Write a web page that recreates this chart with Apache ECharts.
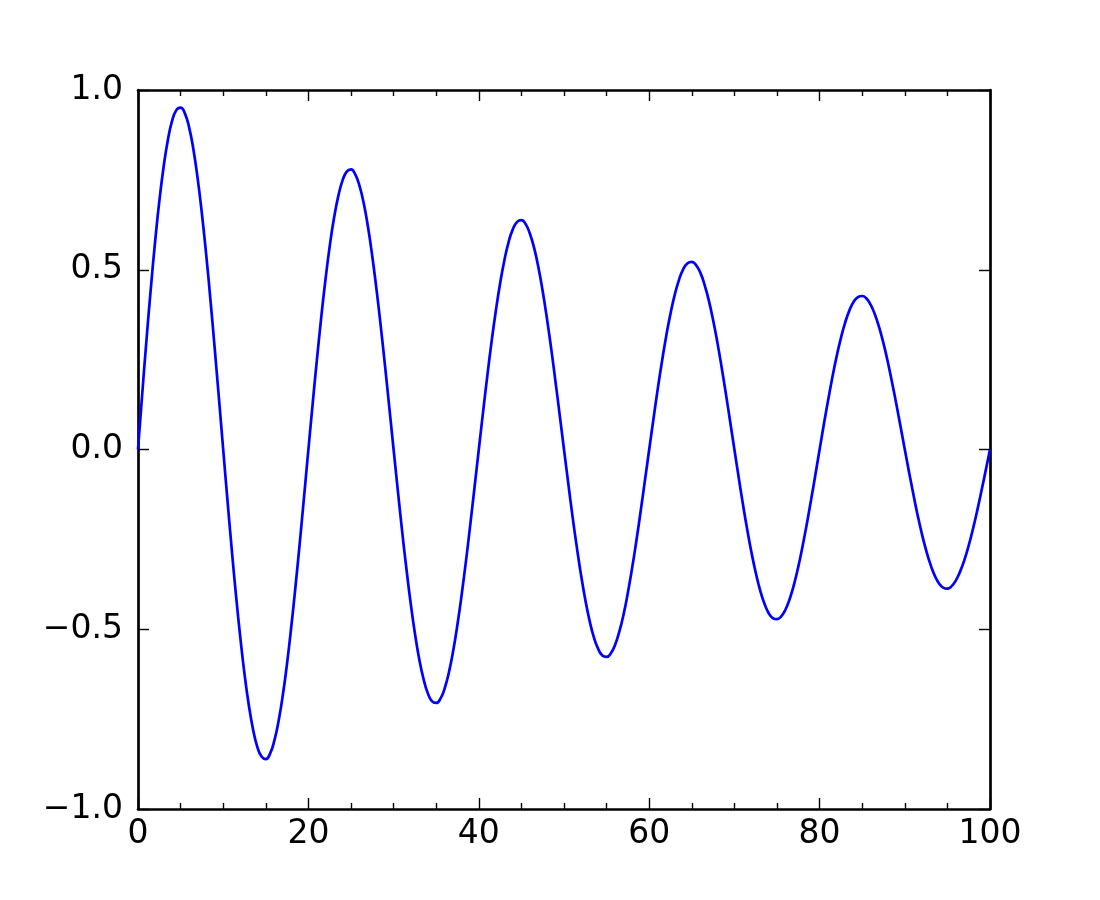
<!DOCTYPE html>
<html>
<head>
<meta charset="utf-8">
<script src="https://cdn.jsdelivr.net/npm/echarts@6/dist/echarts.min.js"></script>
<style>
html,body{margin:0;padding:0;background:#fff;}
#chart{width:1100px;height:900px;}
</style>
</head>
<body>
<div id="chart"></div>
<script>
var xValues = [
 0,0.5,1,1.5,2,2.5,3,3.5,4,4.5,5,5.5,6,6.5,7,7.5,8,8.5,9,9.5,
 10,10.5,11,11.5,12,12.5,13,13.5,14,14.5,15,15.5,16,16.5,17,17.5,18,18.5,19,19.5,
 20,20.5,21,21.5,22,22.5,23,23.5,24,24.5,25,25.5,26,26.5,27,27.5,28,28.5,29,29.5,
 30,30.5,31,31.5,32,32.5,33,33.5,34,34.5,35,35.5,36,36.5,37,37.5,38,38.5,39,39.5,
 40,40.5,41,41.5,42,42.5,43,43.5,44,44.5,45,45.5,46,46.5,47,47.5,48,48.5,49,49.5,
 50,50.5,51,51.5,52,52.5,53,53.5,54,54.5,55,55.5,56,56.5,57,57.5,58,58.5,59,59.5,
 60,60.5,61,61.5,62,62.5,63,63.5,64,64.5,65,65.5,66,66.5,67,67.5,68,68.5,69,69.5,
 70,70.5,71,71.5,72,72.5,73,73.5,74,74.5,75,75.5,76,76.5,77,77.5,78,78.5,79,79.5,
 80,80.5,81,81.5,82,82.5,83,83.5,84,84.5,85,85.5,86,86.5,87,87.5,88,88.5,89,89.5,
 90,90.5,91,91.5,92,92.5,93,93.5,94,94.5,95,95.5,96,96.5,97,97.5,98,98.5,99,99.5,
 100
];
var yValues = [
 0,0.156,0.306,0.447,0.576,0.690,0.785,0.860,0.914,0.944,0.951,0.935,0.896,0.835,0.754,0.656,0.543,0.417,0.282,0.142,
 0,-0.141,-0.277,-0.405,-0.521,-0.624,-0.710,-0.778,-0.827,-0.854,-0.861,-0.846,-0.810,-0.755,-0.683,-0.594,-0.491,-0.377,-0.256,-0.129,
 0,0.127,0.250,0.366,0.472,0.565,0.643,0.704,0.748,0.773,0.779,0.765,0.733,0.684,0.618,0.537,0.444,0.341,0.231,0.116,
 0,-0.115,-0.227,-0.331,-0.427,-0.511,-0.582,-0.637,-0.677,-0.700,-0.705,-0.693,-0.664,-0.619,-0.559,-0.486,-0.402,-0.309,-0.209,-0.105,
 0,0.104,0.205,0.300,0.386,0.462,0.526,0.577,0.613,0.633,0.638,0.627,0.600,0.560,0.506,0.440,0.364,0.280,0.189,0.095,
 0,-0.094,-0.186,-0.271,-0.349,-0.418,-0.476,-0.522,-0.554,-0.573,-0.577,-0.567,-0.543,-0.506,-0.458,-0.398,-0.329,-0.253,-0.171,-0.086,
 0,0.085,0.168,0.245,0.316,0.378,0.431,0.472,0.502,0.518,0.522,0.513,0.492,0.458,0.414,0.360,0.298,0.229,0.155,0.078,
 0,-0.077,-0.152,-0.222,-0.286,-0.342,-0.390,-0.427,-0.454,-0.469,-0.472,-0.464,-0.445,-0.415,-0.375,-0.326,-0.269,-0.207,-0.140,-0.071,
 0,0.070,0.137,0.201,0.259,0.310,0.353,0.387,0.411,0.424,0.427,0.420,0.402,0.375,0.339,0.295,0.244,0.187,0.127,0.064,
 0,-0.063,-0.124,-0.182,-0.234,-0.280,-0.319,-0.350,-0.372,-0.384,-0.387,-0.380,-0.364,-0.339,-0.307,-0.267,-0.221,-0.170,-0.115,-0.058,
 0
];
var xTicks = [0, 20, 40, 60, 80, 100];
var yTicks = [-1.0, -0.5, 0.0, 0.5, 1.0];

var FONT = 'DejaVu Sans';
var data = xValues.map(function (x, i) { return [x, yValues[i]]; });

function yFmt(v) {
  var s = Math.abs(v).toFixed(1);
  return (v < -1e-9 ? '\u2212' : '') + s;
}

function axisLine() {
  return { show: true, onZero: false, lineStyle: { color: '#000', width: 2.7 } };
}
function majorTick() {
  return { show: true, inside: true, length: 11, lineStyle: { color: '#000', width: 1.4 } };
}
function minorTick() {
  return { show: true, splitNumber: 4, length: 6, lineStyle: { color: '#000', width: 1.4 } };
}

var chart = echarts.init(document.getElementById('chart'), null, { renderer: 'canvas' });
chart.setOption({
  animation: false,
  backgroundColor: '#ffffff',
  grid: { left: 138, top: 90, width: 852, height: 719, containLabel: false },
  xAxis: [
    {
      type: 'value', position: 'bottom',
      min: xTicks[0], max: xTicks[xTicks.length - 1], interval: 20,
      axisLine: axisLine(), axisTick: majorTick(), minorTick: minorTick(),
      splitLine: { show: false },
      axisLabel: { show: true, margin: 9, color: '#000', fontFamily: FONT, fontSize: 33,
        formatter: function (v) { return String(v); } }
    },
    {
      type: 'value', position: 'top',
      min: xTicks[0], max: xTicks[xTicks.length - 1], interval: 20,
      axisLine: axisLine(), axisTick: majorTick(), minorTick: minorTick(),
      splitLine: { show: false },
      axisLabel: { show: false }
    }
  ],
  yAxis: [
    {
      type: 'value', position: 'left',
      min: yTicks[0], max: yTicks[yTicks.length - 1], interval: 0.5,
      axisLine: axisLine(), axisTick: majorTick(),
      splitLine: { show: false },
      axisLabel: { show: true, margin: 15, color: '#000', fontFamily: FONT, fontSize: 33,
        padding: [0, 0, 5, 0], formatter: yFmt }
    },
    {
      type: 'value', position: 'right',
      min: yTicks[0], max: yTicks[yTicks.length - 1], interval: 0.5,
      axisLine: axisLine(), axisTick: majorTick(),
      splitLine: { show: false },
      axisLabel: { show: false }
    }
  ],
  series: [{
    type: 'line',
    xAxisIndex: 0, yAxisIndex: 0,
    data: data,
    smooth: true,
    showSymbol: false,
    symbol: 'none',
    lineStyle: { color: '#0000ff', width: 2.7 },
    z: 1
  }]
});
</script>
</body>
</html>
